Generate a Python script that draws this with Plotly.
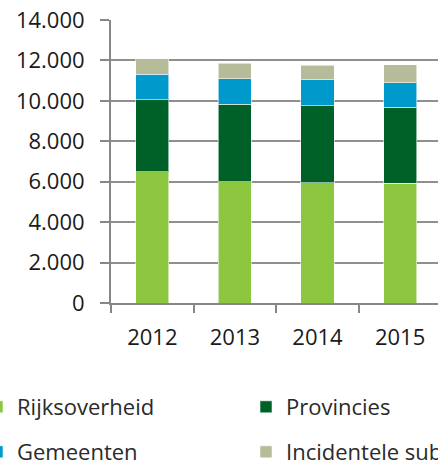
import plotly.graph_objects as go

years = ["2012", "2013", "2014", "2015"]
rijksoverheid = [6500, 6000, 5940, 5920]
provincies = [3550, 3830, 3810, 3760]
gemeenten = [1270, 1270, 1300, 1220]
incidentele = [760, 760, 710, 880]

series = [
    ("Rijksoverheid", rijksoverheid, "#8DC63F", "legend"),
    ("Provincies", provincies, "#006128", "legend2"),
    ("Gemeenten", gemeenten, "#0099CC", "legend3"),
    ("Incidentele subsidies", incidentele, "#B6BC9A", "legend4"),
]

fig = go.Figure()
for name, vals, col, lg in series:
    fig.add_trace(go.Bar(
        x=years, y=vals, name=name, legend=lg, showlegend=True,
        marker=dict(color=col, line=dict(color="rgba(255,255,255,0.55)", width=1)),
        width=0.4,
    ))

AX = "#878787"
FONT = "Open Sans"
txt = "#1a1a1a"

def leg(x, y):
    return dict(x=x, y=y, xref="paper", yref="paper", xanchor="left", yanchor="middle",
                bgcolor="rgba(0,0,0,0)", borderwidth=0, visible=True,
                font=dict(family=FONT, size=22, color="#2a2a2a"))

# plot area: x 111..438, y 20..303
W_PLOT = 327.0
H_PLOT = 283.0
def px(xp):
    return (xp - 111) / W_PLOT
def py(yp):
    return (303 - yp) / H_PLOT

fig.update_layout(
    width=438, height=463,
    margin=dict(l=111, r=0, t=20, b=160, pad=0, autoexpand=False),
    barmode="stack",
    showlegend=True,
    plot_bgcolor="white", paper_bgcolor="white",
    separators=",.",
    font=dict(family=FONT, color=txt),
    legend=leg(px(-23), py(407)),
    legend2=leg(px(246), py(407)),
    legend3=leg(px(-23), py(452)),
    legend4=leg(px(246), py(452)),
    xaxis=dict(
        type="category", range=[-0.5, -0.5 + W_PLOT / 82.6],
        showline=True, linecolor=AX, linewidth=2,
        ticks="outside", tickson="boundaries", ticklen=8, tickwidth=2, tickcolor=AX,
        showgrid=False, tickfont=dict(family=FONT, size=22, color=txt),
        ticklabelstandoff=14,
    ),
    yaxis=dict(
        range=[0, 14000], tickvals=[0, 2000, 4000, 6000, 8000, 10000, 12000, 14000],
        tickformat=",d",
        showline=True, linecolor=AX, linewidth=2,
        ticks="outside", ticklen=9, tickwidth=2, tickcolor=AX,
        showgrid=True, gridcolor="#8f8f8f", gridwidth=1.5, zeroline=False,
        tickfont=dict(family=FONT, size=22, color=txt),
        ticklabelstandoff=11,
    ),
)

fig.write_html("out.html", config={"displayModeBar": False},
               post_script="document.body.style.margin='0';document.body.style.overflow='hidden';")
